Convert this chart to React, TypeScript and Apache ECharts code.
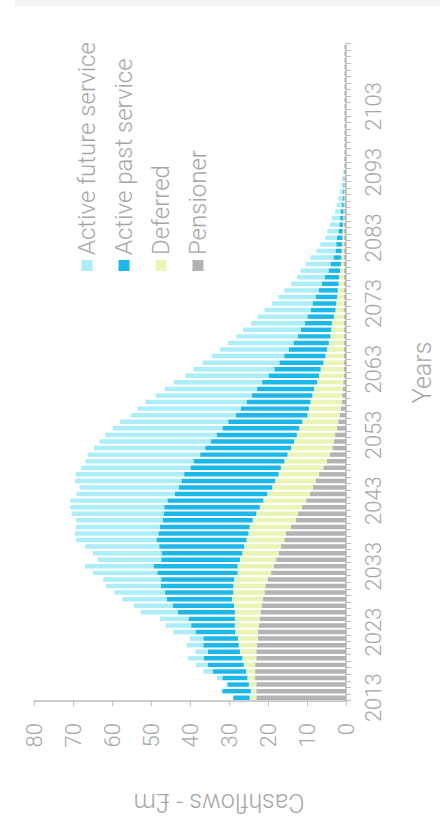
import React, { useEffect, useRef } from "react";
import * as echarts from "echarts";

const FIRST_YEAR = 2013;
const YEAR_COUNT = 100;
const years: string[] = Array.from({ length: YEAR_COUNT }, (_, i) => String(FIRST_YEAR + i));

const seriesNames = ["Pensioner", "Deferred", "Active past service", "Active future service"];
const legendOrder = ["Active future service", "Active past service", "Deferred", "Pensioner"];

const pensioner = [
  23.0, 23.0, 23.0, 23.3, 23.3, 23.3, 23.0, 23.0, 22.8, 22.6,
  22.6, 22.3, 22.2, 21.9, 21.6, 21.3, 20.9, 20.7, 20.1, 19.2,
  18.5, 17.9, 17.3, 16.7, 15.8, 15.4, 14.1, 12.9, 12.4, 11.3,
  10.2, 9.3, 8.5, 7.8, 6.9, 5.8, 4.9, 4.2, 3.5, 3.1,
  2.8, 2.3, 2.0, 1.6, 1.3, 1.1, 1.0, 0.8, 0.7, 0.6,
  0.6, 0.6, 0.55, 0.55, 0.5, 0.5, 0.5, 0.5, 0.5, 0.5,
  0.5, 0.5, 0.5, 0.5, 0.5, 0.5, 0.5, 0.5, 0.5, 0.5,
  0.5, 0.5, 0.5, 0.45, 0.45, 0.45, 0.45, 0.45, 0.45, 0.45,
  0.45, 0.45, 0.45, 0.4, 0.4, 0.4, 0.4, 0.4, 0.4, 0.4,
  0.4, 0.4, 0.4, 0.4, 0.4, 0.4, 0.4, 0.4, 0.4, 0.4,
];

const deferred = [
  1.7, 1.4, 1.9, 2.0, 2.3, 2.9, 3.6, 4.2, 4.7, 5.1,
  5.8, 6.2, 6.3, 6.6, 7.1, 7.9, 8.0, 8.2, 8.6, 8.6,
  9.3, 9.3, 9.3, 9.4, 9.7, 9.6, 10.6, 11.0, 10.6, 10.8,
  11.0, 10.9, 10.4, 10.4, 10.4, 10.9, 10.9, 10.8, 10.6, 10.2,
  9.8, 9.7, 9.2, 8.3, 8.2, 8.0, 7.6, 7.4, 6.7, 6.3,
  5.9, 5.2, 4.7, 4.3, 3.9, 3.5, 3.3, 3.1, 2.6, 2.2,
  2.0, 1.8, 1.6, 1.4, 1.3, 1.0, 0.8, 0.7, 0.6, 0.5,
  0.4, 0.35, 0.3, 0.25, 0.2, 0.15, 0.1, 0.1, 0.05, 0.05,
  0, 0, 0, 0, 0, 0, 0, 0, 0, 0,
  0, 0, 0, 0, 0, 0, 0, 0, 0, 0,
];

const activePast = [
  4.2, 7.3, 5.5, 6.4, 8.5, 9.3, 9.9, 8.2, 9.1, 8.9,
  10.2, 11.2, 11.8, 14.6, 15.7, 16.7, 17.5, 18.6, 18.7, 20.6,
  21.5, 20.2, 20.7, 21.8, 23.1, 23.1, 23.1, 23.1, 23.8, 24.5,
  24.6, 23.7, 24.0, 24.0, 24.2, 23.2, 23.3, 22.4, 22.0, 21.3,
  20.6, 19.7, 19.0, 18.4, 17.5, 16.4, 15.5, 14.6, 14.1, 13.0,
  11.9, 11.3, 10.6, 9.8, 9.1, 8.4, 7.8, 6.9, 6.8, 6.3,
  6.1, 5.5, 4.9, 4.3, 3.7, 3.0, 2.7, 2.0, 1.6, 1.5,
  1.4, 1.1, 0.9, 0.8, 0.75, 0.5, 0.35, 0.3, 0.2, 0.15,
  0.1, 0, 0, 0, 0, 0, 0, 0, 0, 0,
  0, 0, 0, 0, 0, 0, 0, 0, 0, 0,
];

const activeFuture = [
  0, 0.3, 0.3, 1.4, 2.5, 3.0, 4.0, 3.2, 4.2, 3.4,
  5.7, 6.6, 7.4, 9.5, 10.0, 11.4, 13.0, 14.0, 14.9, 16.5,
  17.6, 16.2, 17.6, 19.0, 20.6, 21.4, 21.5, 22.2, 23.4, 24.1,
  24.9, 25.2, 25.4, 27.3, 27.8, 28.0, 27.7, 28.8, 28.5, 28.6,
  28.5, 28.1, 27.8, 26.9, 26.5, 25.9, 24.7, 23.6, 22.7, 21.3,
  20.7, 19.7, 18.6, 17.7, 16.7, 15.7, 14.8, 13.8, 12.7, 11.9,
  10.4, 9.5, 8.8, 7.9, 7.1, 7.1, 6.3, 5.9, 4.9, 4.1,
  3.0, 2.9, 2.4, 2.2, 1.4, 1.3, 1.1, 0.7, 0.45, 0.3,
  0.2, 0.1, 0, 0, 0, 0, 0, 0, 0, 0,
  0, 0, 0, 0, 0, 0, 0, 0, 0, 0,
];

const seriesColors = ["#b5b2b5", "#e9f5b4", "#1bb8e9", "#abeef8"];
const seriesData = [pensioner, deferred, activePast, activeFuture];

const FONT = 'Roboto, "Liberation Sans", Arial, sans-serif';
const WEIGHT = 300;
const TEXT_COLOR = "#a6a6a6";
const AXIS_COLOR = "#bdbdbd";

export default function App() {
  const ref = useRef<HTMLDivElement>(null);

  useEffect(() => {
    if (!ref.current) return;
    const chart = echarts.init(ref.current, undefined, { renderer: "svg" });
    chart.setOption({
      animation: false,
      backgroundColor: "#ffffff",
      textStyle: { fontFamily: FONT, fontWeight: WEIGHT },
      grid: { left: 124, right: 44, top: 34, bottom: 91, containLabel: false },
      legend: {
        orient: "vertical",
        left: 549,
        top: 70,
        itemWidth: 11,
        itemHeight: 11,
        itemGap: 13,
        icon: "rect",
        selectedMode: false,
        data: legendOrder,
        textStyle: { fontSize: 24, lineHeight: 24, color: TEXT_COLOR, fontFamily: FONT, fontWeight: WEIGHT },
      },
      xAxis: {
        type: "category",
        data: years,
        name: "Years",
        nameLocation: "middle",
        nameGap: 64,
        nameTextStyle: { fontSize: 25, color: TEXT_COLOR, fontFamily: FONT, fontWeight: WEIGHT },
        axisLine: { show: true, lineStyle: { color: AXIS_COLOR, width: 1.5 } },
        axisTick: { show: true, interval: 0, length: 5, lineStyle: { color: AXIS_COLOR } },
        axisLabel: { interval: 9, fontSize: 22, color: TEXT_COLOR, margin: 16, fontFamily: FONT, fontWeight: WEIGHT },
        splitLine: { show: false },
      },
      yAxis: {
        type: "value",
        min: 0,
        max: 80,
        interval: 10,
        axisLine: { show: true, lineStyle: { color: AXIS_COLOR, width: 1.5 } },
        axisTick: { show: true, length: 5, lineStyle: { color: AXIS_COLOR } },
        axisLabel: { fontSize: 22, color: TEXT_COLOR, margin: 22, fontFamily: FONT, fontWeight: WEIGHT },
        splitLine: { show: false },
      },
      graphic: [
        {
          type: "rect",
          shape: { x: 819, y: 15, width: 6, height: 425 },
          style: { fill: "#f3f3f3" },
          silent: true,
        },
        {
          type: "text",
          x: 23,
          y: 219,
          rotation: Math.PI / 2,
          style: {
            text: "Cashflows - £m",
            fontSize: 25,
            fontFamily: FONT,
            fontWeight: WEIGHT,
            fill: TEXT_COLOR,
            textAlign: "center",
            textVerticalAlign: "middle",
          },
          silent: true,
        },
      ],
      series: seriesNames.map((name, k) => ({
        name,
        type: "bar",
        stack: "total",
        data: seriesData[k],
        barCategoryGap: "32%",
        itemStyle: { color: seriesColors[k] },
        emphasis: { disabled: true },
      })),
    });
    return () => chart.dispose();
  }, []);

  return (
    <div
      style={{
        position: "fixed",
        left: 0,
        top: 0,
        width: 440,
        height: 825,
        overflow: "hidden",
        background: "#ffffff",
      }}
    >
      <div
        ref={ref}
        style={{
          position: "absolute",
          left: 0,
          top: 0,
          width: 825,
          height: 440,
          transformOrigin: "0 0",
          transform: "translate(0px, 825px) rotate(-90deg)",
        }}
      />
    </div>
  );
}
